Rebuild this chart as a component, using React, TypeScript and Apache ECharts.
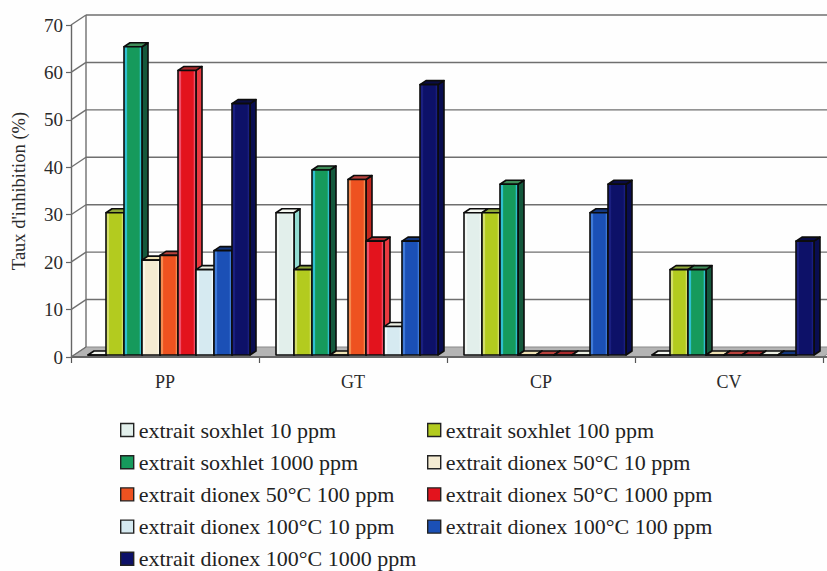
import React, { useEffect, useRef } from "react";
import * as echarts from "echarts";

const categories = ["PP", "GT", "CP", "CV"];
const yTicks = [0, 10, 20, 30, 40, 50, 60, 70];
const seriesNames = [
  "extrait soxhlet 10 ppm",
  "extrait soxhlet 100 ppm",
  "extrait soxhlet 1000 ppm",
  "extrait dionex 50°C 10 ppm",
  "extrait dionex 50°C 100 ppm",
  "extrait dionex 50°C 1000 ppm",
  "extrait dionex 100°C 10 ppm",
  "extrait dionex 100°C 100 ppm",
  "extrait dionex 100°C 1000 ppm",
];
const soxhlet10 = [0, 30, 30, 0];
const soxhlet100 = [30, 18, 30, 18];
const soxhlet1000 = [65, 39, 36, 18];
const dionex50_10 = [20, 0, 0, 0];
const dionex50_100 = [21, 37, 0, 0];
const dionex50_1000 = [60, 24, 0, 0];
const dionex100_10 = [18, 6, 0, 0];
const dionex100_100 = [22, 24, 30, 0];
const dionex100_1000 = [53, 57, 36, 24];
const seriesValues = [
  soxhlet10, soxhlet100, soxhlet1000, dionex50_10, dionex50_100,
  dionex50_1000, dionex100_10, dionex100_100, dionex100_1000,
];
const fronts = ["#e2efeb", "#b3cb1f", "#169a5c", "#f4ebd2", "#ee5220", "#e3131d", "#d6eaf1", "#1b50b6", "#0d1168"];
const edges = ["#f2f8f5", "#d3de6a", "#2fc0d0", "#fbf6e6", "#f58a50", "#f0506a", "#eef8fb", "#3f7ad8", "#1a1f80"];
const tops = ["#f4f7f0", "#8fa838", "#3f8c58", "#efe2b4", "#b8423c", "#a92a2c", "#ebeee2", "#13377f", "#0a0c45"];
const sides = ["#93dcd2", "#7f9a1c", "#14583c", "#d8cfa0", "#c4281f", "#e83a40", "#a8cfd6", "#102f7c", "#090d50"];
const legendColumnA = seriesNames.filter((_, i) => i % 2 === 0);
const legendColumnB = seriesNames.filter((_, i) => i % 2 === 1);

const DX = 15, DY = 10;      // wall depth
const BDX = 6, BDY = 4;      // bar depth
const BAR_LEFT = 17, BAR_W = 18, BASE_UP = 2;
const FONT = "'Liberation Serif', serif";

function wallItem(params: any, api: any) {
  const v = api.value(1);
  const cs = params.coordSys;
  const y = api.coord([0, v])[1];
  const x0 = cs.x, x1 = cs.x + cs.width;
  const line = { stroke: "#6f6f6f", lineWidth: 1.4 };
  const children: any[] = [];
  if (v === 0) {
    children.push({
      type: "polygon",
      shape: { points: [[x0, y], [x1, y], [x1 + DX, y - DY], [x0 + DX, y - DY]] },
      style: { fill: "#b4b4b4", stroke: "#8a8a8a", lineWidth: 1 },
    });
    children.push({ type: "line", shape: { x1: x0, y1: y, x2: x1 + DX, y2: y }, style: { stroke: "#666", lineWidth: 2 } });
  } else {
    children.push({ type: "line", shape: { x1: x0 + DX, y1: y - DY, x2: x1 + DX, y2: y - DY }, style: line });
  }
  if (v === 70) {
    const yb = api.coord([0, 0])[1];
    children.push({ type: "line", shape: { x1: x0 + DX, y1: y - DY, x2: x0 + DX, y2: yb - DY }, style: line });
  }
  children.push({ type: "line", shape: { x1: x0, y1: y, x2: x0 + DX, y2: y - DY }, style: line });
  return { type: "group", children };
}

function barItem(idx: number) {
  return (params: any, api: any) => {
    const cat = api.value(0);
    const val = api.value(1);
    const left = params.coordSys.x + cat * api.size([1, 0])[0] + BAR_LEFT + idx * BAR_W;
    const base = api.coord([cat, 0])[1] - BASE_UP;
    const top = api.coord([cat, val])[1] - BASE_UP;
    const r = left + BAR_W;
    const stroke = { stroke: "#0c0c0c", lineWidth: 1.6, lineJoin: "round" };
    const fill = new echarts.graphic.LinearGradient(0, 0, 1, 0, [
      { offset: 0, color: edges[idx] },
      { offset: 0.14, color: edges[idx] },
      { offset: 0.2, color: fronts[idx] },
      { offset: 0.84, color: fronts[idx] },
      { offset: 0.92, color: edges[idx] },
      { offset: 1, color: fronts[idx] },
    ]);
    return {
      type: "group",
      children: [
        {
          type: "polygon",
          shape: { points: [[r, base], [r + BDX, base - BDY], [r + BDX, top - BDY], [r, top]] },
          style: { fill: sides[idx], ...stroke },
        },
        {
          type: "polygon",
          shape: { points: [[left, top], [left + BDX, top - BDY], [r + BDX, top - BDY], [r, top]] },
          style: { fill: tops[idx], ...stroke },
        },
        { type: "rect", shape: { x: left, y: top, width: BAR_W, height: base - top }, style: { fill, ...stroke } },
      ],
    };
  };
}

function legendData(names: string[]) {
  return names.map((name) => {
    const i = seriesNames.indexOf(name);
    return {
      name,
      icon: "rect",
      itemStyle: { color: fronts[i], borderColor: "#222", borderWidth: 1.4 },
    };
  });
}

const legendBase = {
  orient: "vertical" as const,
  itemWidth: 13,
  itemHeight: 13,
  itemGap: 10.2,
  height: 170,
  selectedMode: false,
  padding: 0,
  textStyle: { fontFamily: FONT, fontSize: 22, color: "#222", lineHeight: 22, padding: 0 },
};

export default function App() {
  const ref = useRef<HTMLDivElement>(null);
  useEffect(() => {
    const chart = echarts.init(ref.current!, undefined, { renderer: "svg" });
    chart.setOption({
      animation: false,
      backgroundColor: "#fefefe",
      grid: { left: 71, top: 25, width: 752, height: 332, outerBoundsMode: "none" },
      xAxis: {
        type: "category",
        data: categories,
        axisLine: { show: false },
        axisTick: { show: true, alignWithLabel: false, length: 6, lineStyle: { color: "#555", width: 1.2 } },
        axisLabel: { fontFamily: FONT, fontSize: 18, color: "#2a2a2a", margin: 16 },
      },
      yAxis: {
        type: "value",
        min: 0,
        max: 70,
        interval: 10,
        name: "Taux d'inhibition (%)",
        nameLocation: "middle",
        nameGap: 43,
        nameRotate: 90,
        nameTextStyle: { fontFamily: FONT, fontSize: 18.5, color: "#2a2a2a" },
        splitLine: { show: false },
        axisLine: { show: true, lineStyle: { color: "#666", width: 1.4 } },
        axisTick: { show: true, length: 5, lineStyle: { color: "#666", width: 1.2 } },
        axisLabel: { fontFamily: FONT, fontSize: 19, color: "#2a2a2a", margin: 8 },
      },
      legend: [
        { ...legendBase, left: 120, top: 419, data: legendData(legendColumnA) },
        { ...legendBase, left: 427, top: 419, data: legendData(legendColumnB) },
      ],
      series: [
        {
          type: "custom",
          silent: true,
          clip: false,
          renderItem: wallItem,
          encode: { x: 0, y: 1 },
          data: yTicks.map((t) => [0, t]),
        },
        ...seriesNames.map((name, i) => ({
          type: "custom",
          name,
          clip: false,
          silent: true,
          renderItem: barItem(i),
          encode: { x: 0, y: 1 },
          itemStyle: { color: fronts[i] },
          data: seriesValues[i].map((v, c) => [c, v]),
        })),
      ],
    });
    return () => chart.dispose();
  }, []);
  return <div ref={ref} style={{ position: "absolute", left: 0, top: 0, width: 827, height: 571 }} />;
}
